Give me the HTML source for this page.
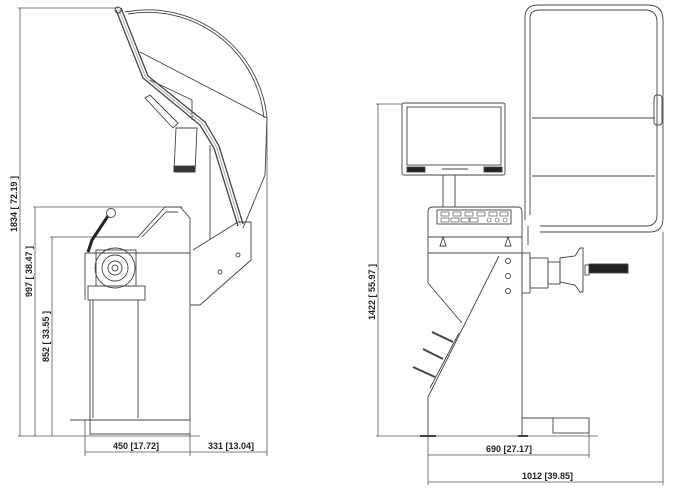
<!DOCTYPE html>
<html><head><meta charset="utf-8"><style>
html,body{margin:0;padding:0;background:#fff;}
svg{display:block;}
text{font-family:"Liberation Sans",sans-serif;font-size:9px;font-weight:bold;fill:#222;}
</style></head><body>
<svg width="675" height="491" viewBox="0 0 675 491" xmlns="http://www.w3.org/2000/svg" xml:space="preserve">
<g stroke="#555" stroke-width="0.8" fill="none">
<line x1="20" y1="8" x2="20" y2="436"/>
<line x1="35" y1="207" x2="35" y2="436"/>
<line x1="52" y1="237" x2="52" y2="436"/>
<line x1="18" y1="8" x2="118" y2="8"/>
<line x1="33" y1="207" x2="183" y2="207"/>
<line x1="50" y1="237" x2="96" y2="237"/>
<line x1="18" y1="436" x2="200" y2="436"/>
<line x1="85" y1="420" x2="85" y2="456"/>
<line x1="190" y1="420" x2="190" y2="456"/>
<line x1="267" y1="118" x2="267" y2="456"/>
<line x1="85" y1="452" x2="190" y2="452"/>
<line x1="190" y1="452" x2="267" y2="452"/>
</g>
<text transform="translate(17,232) rotate(-90)">1834  [ 72.19 ]</text>
<text transform="translate(32,297) rotate(-90)">997  [ 38.47 ]</text>
<text transform="translate(49,362) rotate(-90)">852  [ 33.55 ]</text>
<text x="113" y="449">450  [17.72]</text>
<text x="208" y="449">331  [13.04]</text>

<g stroke="#444" stroke-width="0.9" fill="none">
<path d="M125,12 A120,120 0 0 1 267,118 L265,175 L243,228"/>
<path d="M128,14 A117,117 0 0 1 264,118"/>
<path d="M140,52 L267,118"/>
<path d="M150,80 L192,100 L192,120"/>
<path d="M116,10 L143,78 L200,125 L214,148 L238,226" stroke-width="1.3"/>
<path d="M121,8 L148,76 L205,122 L219,146 L243,224" stroke-width="1.3"/>
<path d="M118.5,9 L145.5,77 L202.5,123.5 L216.5,147 L240.5,225" stroke="#aaa" stroke-width="1"/>
<circle cx="118" cy="10" r="3"/>
<path d="M145,98 L150,95 L178,123 L173,128 Z"/>
<path d="M176,128 L197,128 L195,172 L174,172 Z"/>
<rect x="174" y="166" width="21" height="6" fill="#333"/>
<line x1="210" y1="145" x2="210" y2="240"/>
<path d="M193,250 L238,222 L251,222 L251,260 L200,305 L190,305"/>
<circle cx="238" cy="255" r="2"/><circle cx="220" cy="272" r="2"/>
<path d="M96,237 L138,237 L165,207 L180,207 L190,218 L190,253 L85,253"/>
<path d="M142,237 L166,212 L178,212"/>
<line x1="85" y1="253" x2="85" y2="300"/>
<path d="M90,300 L90,420 L190,420 L190,253"/>
<line x1="138" y1="300" x2="138" y2="418"/>
<line x1="93" y1="300" x2="93" y2="418"/>
<path d="M90,420 L90,434 L190,434"/>
<line x1="70" y1="420" x2="90" y2="420"/>
<circle cx="115" cy="268" r="20"/>
<circle cx="115" cy="268" r="13"/>
<circle cx="115" cy="268" r="7"/>
<circle cx="115" cy="268" r="3"/>
<rect x="96" y="250" width="40" height="36"/>
<rect x="88" y="286" width="57" height="14"/>
<path d="M88,252 L92,240 L100,228 L108,216" stroke="#222" stroke-width="3"/>
<circle cx="111" cy="213" r="4.5"/>
</g>

<g stroke="#555" stroke-width="0.8" fill="none">
<line x1="378" y1="104" x2="378" y2="436"/>
<line x1="376" y1="104" x2="402" y2="104"/>
<line x1="376" y1="436" x2="598" y2="436"/>
<line x1="428" y1="436" x2="428" y2="485"/>
<line x1="589" y1="420" x2="589" y2="458"/>
<line x1="663" y1="232" x2="663" y2="485"/>
<line x1="428" y1="455" x2="589" y2="455"/>
<line x1="428" y1="482" x2="663" y2="482"/>
</g>
<text transform="translate(375,320) rotate(-90)">1422  [ 55.97 ]</text>
<text x="486" y="452">690  [27.17]</text>
<text x="522" y="479">1012  [39.85]</text>

<g stroke="#444" stroke-width="0.9" fill="none">
<rect x="402" y="103" width="103" height="72" rx="2"/>
<rect x="407" y="107" width="94" height="58"/>
<rect x="407" y="167" width="18" height="5" fill="#222"/>
<rect x="484" y="167" width="18" height="5" fill="#222"/>
<line x1="442" y1="169" x2="468" y2="169"/>
<path d="M443,175 L443,207 M455,175 L455,207"/>
<path d="M428,253 L428,212 Q428,207 433,207 L518,207 Q522,207 522,212 L522,253 Z"/>
<line x1="428" y1="237" x2="522" y2="237"/>
<rect x="437" y="210" width="74" height="14"/>
<g stroke-width="0.6">
<rect x="441" y="212" width="8" height="4"/><rect x="453" y="212" width="8" height="4"/><rect x="465" y="212" width="8" height="4"/><rect x="477" y="212" width="8" height="4"/><rect x="489" y="212" width="8" height="4"/><rect x="500" y="212" width="8" height="4"/>
<rect x="441" y="218" width="8" height="4"/><rect x="451" y="218" width="8" height="4"/><rect x="461" y="218" width="8" height="4"/><rect x="470" y="218" width="8" height="4"/>
<circle cx="489" cy="220" r="2"/><circle cx="497" cy="220" r="2"/><circle cx="505" cy="220" r="2"/>
</g>
<path d="M440,246 L443,237 L446,246 Z M505,246 L508,237 L511,246 Z"/>
<path d="M428,253 L428,283 L462,323"/>
<path d="M499,256 L428,397 L428,436"/>
<line x1="522" y1="253" x2="522" y2="436"/>
<circle cx="508" cy="261" r="2.5"/><circle cx="508" cy="276" r="2.5"/><circle cx="508" cy="291" r="2.5"/>
<path d="M432,332 L453,342 M423,349 L443,359 M413,367 L435,377" stroke-width="2"/>
<path d="M459,333 L430,388"/>
<path d="M525,220 L525,18 Q525,5 538,5 L648,5 Q663,5 663,20 L663,218 Q663,232 650,232 L540,232"/>
<path d="M530,215 L530,18 Q530,10 540,10 L645,10 Q657,10 657,22 L657,215 Q657,226 646,226 L540,226"/>
<line x1="532" y1="118" x2="655" y2="118"/>
<line x1="532" y1="176" x2="655" y2="176"/>
<line x1="528" y1="226" x2="528" y2="245"/>
<rect x="654" y="95" width="8" height="30" rx="3"/>
<rect x="522" y="253" width="8" height="40"/>
<rect x="530" y="258" width="18" height="30"/>
<rect x="548" y="262" width="12" height="22"/>
<path d="M560,258 L575,256 L580,248 L583,248 L583,292 L580,292 L575,285 L560,282 Z"/>
<rect x="585" y="265" width="4" height="10"/>
<rect x="589" y="264" width="39" height="9" fill="#222"/>
<rect x="553" y="418" width="36" height="15"/>
<line x1="522" y1="418" x2="553" y2="418"/>
<path d="M420,436 L436,436 M518,436 L528,436" stroke-width="2"/>
</g>
</svg>
</body></html>
